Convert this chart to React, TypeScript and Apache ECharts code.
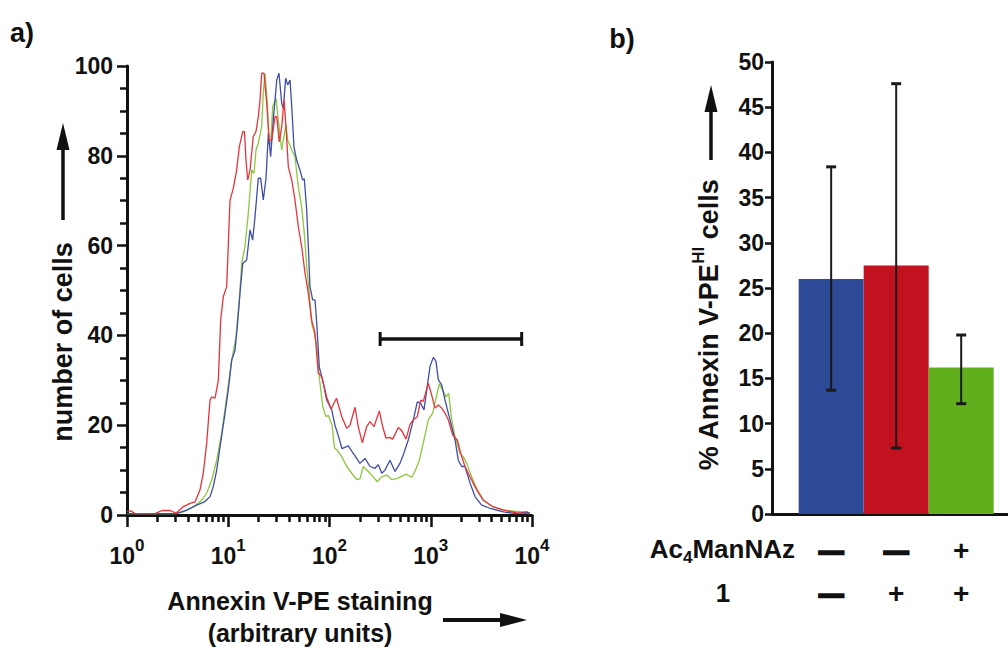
import React, { useEffect, useRef } from 'react';
import * as echarts from 'echarts';

// ---------- Panel a: flow cytometry histograms ----------
// each point: [log10 of Annexin V-PE intensity, number of cells]
const redTrace: [number, number][] = [
  [0, 0.8], [0.04, 0.9], [0.079, 0.3], [0.277, 0.3], [0.346, 1.0], [0.425, 1.0], [0.484, 0.4], [0.553, 1.8],
  [0.622, 2.6], [0.672, 2.9], [0.721, 5.6], [0.754, 9.4], [0.787, 16], [0.82, 25.6], [0.837, 26.3], [0.869, 26],
  [0.902, 30], [0.925, 43.4], [0.951, 48.6], [0.984, 50.8], [1.0, 59.8], [1.017, 70], [1.05, 72.8], [1.083, 76.8],
  [1.109, 82], [1.143, 85.4], [1.16, 85.4], [1.175, 79], [1.192, 74.6], [1.215, 76.8], [1.247, 84.3], [1.274, 85.4],
  [1.297, 88.7], [1.314, 92.4], [1.33, 98.4], [1.353, 98.4], [1.38, 91.7], [1.405, 83.5], [1.429, 83.5], [1.462, 88.7],
  [1.479, 88.7], [1.504, 83.1], [1.528, 86.5], [1.551, 92.4], [1.57, 86.5], [1.593, 77.6], [1.627, 74.6], [1.659, 70.2],
  [1.692, 64.2], [1.725, 59.8], [1.758, 53.9], [1.791, 49.4], [1.824, 43.4], [1.857, 40.5], [1.889, 31.6], [1.923, 30.8],
  [1.972, 26.3], [2.015, 23.6], [2.069, 26], [2.121, 21.9], [2.17, 19.3], [2.202, 20], [2.252, 24], [2.284, 19.7],
  [2.324, 16.1], [2.367, 19.7], [2.4, 20.8], [2.44, 19.7], [2.492, 23.2], [2.525, 19.7], [2.558, 17.1], [2.591, 17.3],
  [2.624, 16.9], [2.68, 19.5], [2.713, 18.8], [2.756, 16.9], [2.795, 20.2], [2.828, 21.2], [2.867, 21.9], [2.901, 25.6],
  [2.926, 25.3], [2.976, 29.3], [3.009, 26.7], [3.042, 23.8], [3.075, 24.5], [3.108, 23.8], [3.141, 22.7], [3.173, 21.2],
  [3.217, 17.8], [3.262, 16.7], [3.296, 13.7], [3.338, 10.8], [3.388, 8.5], [3.454, 5.6], [3.519, 3.3], [3.618, 1.8],
  [3.717, 1.1], [3.849, 0.5], [3.98, 0.3],
];

const blueTrace: [number, number][] = [
  [0, 0.3], [0.227, 0.3], [0.484, 0.3], [0.59, 1.1], [0.688, 2.2], [0.77, 3.0], [0.82, 4.1], [0.852, 6.3],
  [0.886, 10], [0.919, 15.2], [0.968, 22.6], [1.0, 27.8], [1.034, 34.5], [1.067, 36.7], [1.089, 41.9], [1.116, 49.4],
  [1.143, 56], [1.182, 56.8], [1.215, 63.5], [1.241, 61.2], [1.264, 66.4], [1.297, 75], [1.32, 75], [1.346, 70.2],
  [1.373, 75], [1.396, 85], [1.419, 79.8], [1.445, 88], [1.479, 96.9], [1.501, 98.4], [1.528, 91.7], [1.544, 90.5],
  [1.567, 97.3], [1.587, 95.8], [1.61, 96.9], [1.627, 91], [1.649, 82], [1.676, 79], [1.709, 76.8], [1.735, 74.6],
  [1.751, 74.9], [1.775, 67.9], [1.791, 59.8], [1.807, 50.8], [1.834, 47.9], [1.857, 47.9], [1.874, 42.7], [1.899, 33],
  [1.933, 30], [1.972, 25.6], [2.022, 23.4], [2.054, 20], [2.089, 17.5], [2.123, 14.8], [2.186, 15.4], [2.235, 13.7],
  [2.301, 11.5], [2.351, 12.6], [2.4, 10.8], [2.449, 10.4], [2.482, 11.2], [2.516, 9.3], [2.548, 10], [2.597, 12.2],
  [2.647, 9.7], [2.696, 11.5], [2.729, 13.4], [2.778, 16.7], [2.828, 21.2], [2.867, 25.2], [2.901, 24.9], [2.933, 23.4],
  [2.966, 28.7], [2.993, 33.1], [3.025, 35.1], [3.052, 34.2], [3.075, 30.1], [3.108, 29], [3.141, 25.6], [3.19, 21.2],
  [3.24, 16.7], [3.272, 12.2], [3.306, 10.8], [3.338, 10.8], [3.388, 7.1], [3.437, 4.1], [3.503, 2.2], [3.585, 1.5],
  [3.717, 0.7], [3.849, 0.3], [3.948, 0.7], [3.98, 0.3],
];

const greenTrace: [number, number][] = [
  [0, 0.3], [0.484, 0.3], [0.556, 0.7], [0.655, 1.8], [0.738, 3.3], [0.787, 4.9], [0.837, 7.8], [0.886, 12.2],
  [0.935, 18.2], [0.985, 26.3], [1.034, 34.5], [1.077, 39.7], [1.109, 47.9], [1.133, 56], [1.165, 59.8], [1.198, 67.2],
  [1.232, 76.8], [1.254, 76.1], [1.274, 81.3], [1.297, 82.8], [1.33, 86.5], [1.346, 93.9], [1.363, 98.4], [1.386, 91.7],
  [1.402, 82.8], [1.419, 82.5], [1.439, 91], [1.472, 92.8], [1.494, 88], [1.528, 81.3], [1.544, 83.5], [1.57, 86.9],
  [1.587, 83.5], [1.627, 81.3], [1.659, 79.8], [1.692, 73.1], [1.725, 68.7], [1.751, 62.7], [1.775, 55.3], [1.8, 49.4],
  [1.824, 42.7], [1.847, 40.8], [1.874, 37.5], [1.899, 30.8], [1.933, 24.1], [1.965, 21.9], [1.988, 22.2], [2.025, 20],
  [2.049, 15], [2.074, 14.5], [2.121, 13], [2.17, 10.8], [2.219, 9.3], [2.269, 7.9], [2.301, 8.1], [2.334, 10.8],
  [2.383, 9.7], [2.433, 8.5], [2.472, 7.4], [2.516, 8.5], [2.565, 8.9], [2.614, 7.9], [2.664, 8.1], [2.713, 8.6],
  [2.756, 9.1], [2.812, 8.4], [2.844, 9.7], [2.887, 12.2], [2.926, 16], [2.976, 21.2], [3.019, 22.7], [3.052, 26],
  [3.084, 29.2], [3.118, 27.8], [3.151, 26.3], [3.177, 27.1], [3.207, 21.2], [3.24, 17.4], [3.289, 13.7], [3.321, 13],
  [3.355, 11.5], [3.404, 8.5], [3.454, 5.9], [3.519, 3.3], [3.618, 1.8], [3.75, 1.0], [3.914, 0.7], [3.98, 0.5],
];

// gate marker: [start decade, end decade, height]
const gateMarker: [number, number, number][] = [[2.5, 3.898, 39.2]];

// decade tick positions (10^0 ... 10^4)
const decadeTicks = [0, 1, 2, 3, 4];
const minorMultipliers = [2, 3, 4, 5, 6, 7, 8, 9];

// ---------- Panel b: % Annexin V-PE high cells ----------
const groupPositions = [1, 2, 3];
const barValues = [26.0, 27.5, 16.2];
const errorLow = [13.7, 7.3, 12.2];
const errorHigh = [38.4, 47.6, 19.8];
const barColors = ['#2d4a96', '#c3121f', '#62af1e'];
const ac4ManNAzRow = ['—', '—', '+'];
const compound1Row = ['—', '+', '+'];

const FONT = '"Liberation Sans", Arial, Helvetica, sans-serif';
const INK = '#111111';

export default function App() {
  const ref = useRef<HTMLDivElement>(null);

  useEffect(() => {
    if (!ref.current) return;
    const chart = echarts.init(ref.current, undefined, { renderer: 'svg' });

    const minorTickValues: number[] = [];
    for (let k = 0; k < decadeTicks.length - 1; k++) {
      for (const m of minorMultipliers) minorTickValues.push(decadeTicks[k] + Math.log10(m));
    }

    const tickLabel = { fontFamily: FONT, fontWeight: 'bold' as const, fontSize: 23, color: INK };

    const option: any = {
      animation: false,
      backgroundColor: '#ffffff',
      grid: [
        { left: 127, top: 66, width: 405, height: 449 },
        { left: 772, top: 62, width: 236, height: 452 },
      ],
      xAxis: [
        {
          gridIndex: 0, type: 'value', min: 0, max: 4, interval: 1, position: 'bottom',
          axisLine: { show: true, lineStyle: { color: INK, width: 3 } },
          axisTick: { show: true, length: 12, lineStyle: { color: INK, width: 2.5 } },
          splitLine: { show: false },
          axisLabel: {
            margin: 22,
            formatter: (v: number) => `{b|10}{s|${Math.round(v)}}`,
            rich: {
              b: { ...tickLabel, fontSize: 23 },
              s: { ...tickLabel, fontSize: 17, padding: [0, 0, 20, 0] },
            },
          },
        },
        {
          gridIndex: 0, type: 'value', min: 0, max: 4, position: 'bottom',
          axisLine: { show: false },
          axisTick: { show: true, customValues: minorTickValues, length: 7, lineStyle: { color: INK, width: 2.5 } },
          axisLabel: { show: false },
          splitLine: { show: false },
        },
        {
          gridIndex: 1, type: 'value', min: 0.09, max: 3.72,
          axisLine: { show: true, onZero: false, lineStyle: { color: INK, width: 3 } },
          axisTick: { show: false },
          axisLabel: { show: false },
          splitLine: { show: false },
        },
      ],
      yAxis: [
        {
          gridIndex: 0, type: 'value', min: 0, max: 100, interval: 20,
          axisLine: { show: true, lineStyle: { color: INK, width: 3 } },
          axisTick: { show: true, length: 10, lineStyle: { color: INK, width: 2.5 } },
          minorTick: { show: true, splitNumber: 4, length: 7, lineStyle: { color: INK, width: 2.5 } },
          splitLine: { show: false },
          minorSplitLine: { show: false },
          axisLabel: { ...tickLabel, margin: 14 },
        },
        {
          gridIndex: 1, type: 'value', min: 0, max: 50, interval: 5,
          axisLine: { show: true, lineStyle: { color: INK, width: 3 } },
          axisTick: { show: true, length: 7, lineStyle: { color: INK, width: 2.5 } },
          splitLine: { show: false },
          axisLabel: { ...tickLabel, margin: 8 },
        },
      ],
      series: [
        {
          type: 'line', xAxisIndex: 0, yAxisIndex: 0, data: greenTrace, showSymbol: false,
          lineStyle: { color: '#8dc63f', width: 1.3 }, z: 2,
        },
        {
          type: 'line', xAxisIndex: 0, yAxisIndex: 0, data: blueTrace, showSymbol: false,
          lineStyle: { color: '#3f4ea8', width: 1.3 }, z: 3,
        },
        {
          type: 'line', xAxisIndex: 0, yAxisIndex: 0, data: redTrace, showSymbol: false,
          lineStyle: { color: '#e8333a', width: 1.3 }, z: 4,
        },
        {
          type: 'custom', xAxisIndex: 0, yAxisIndex: 0, data: gateMarker,
          encode: { x: [0, 1], y: 2 },
          renderItem: (params: any, api: any) => {
            const p1 = api.coord([api.value(0), api.value(2)]);
            const p2 = api.coord([api.value(1), api.value(2)]);
            const st = { stroke: INK, lineWidth: 3.5 };
            return {
              type: 'group',
              children: [
                { type: 'line', shape: { x1: p1[0], y1: p1[1], x2: p2[0], y2: p2[1] }, style: st },
                { type: 'line', shape: { x1: p1[0], y1: p1[1] - 7, x2: p1[0], y2: p1[1] + 7 }, style: { stroke: INK, lineWidth: 3 } },
                { type: 'line', shape: { x1: p2[0], y1: p2[1] - 7, x2: p2[0], y2: p2[1] + 7 }, style: { stroke: INK, lineWidth: 3 } },
              ],
            };
          },
          z: 5,
        },
        {
          type: 'bar', xAxisIndex: 2, yAxisIndex: 1, barWidth: 65,
          data: groupPositions.map((g, i) => ({ value: [g, barValues[i]], itemStyle: { color: barColors[i] } })),
          z: 2,
        },
        {
          type: 'custom', xAxisIndex: 2, yAxisIndex: 1,
          data: groupPositions.map((g, i) => [g, errorLow[i], errorHigh[i]]),
          encode: { x: 0, y: [1, 2] },
          renderItem: (params: any, api: any) => {
            const lo = api.coord([api.value(0), api.value(1)]);
            const hi = api.coord([api.value(0), api.value(2)]);
            const cap = 5;
            return {
              type: 'group',
              children: [
                { type: 'line', shape: { x1: lo[0], y1: lo[1], x2: hi[0], y2: hi[1] }, style: { stroke: '#1a1a1a', lineWidth: 2 } },
                { type: 'line', shape: { x1: hi[0] - cap, y1: hi[1], x2: hi[0] + cap, y2: hi[1] }, style: { stroke: '#1a1a1a', lineWidth: 3 } },
                { type: 'line', shape: { x1: lo[0] - cap, y1: lo[1], x2: lo[0] + cap, y2: lo[1] }, style: { stroke: '#1a1a1a', lineWidth: 3 } },
              ],
            };
          },
          z: 6,
        },
      ],
    };

    chart.setOption(option);

    const txt = (id: string, x: number, y: number, text: string, size: number, extra: any = {}) => ({
      type: 'text', id, x, y, rotation: extra.rotation || 0,
      style: {
        text, fontFamily: FONT, fontWeight: 'bold', fontSize: size, fill: INK,
        align: extra.align || 'center', verticalAlign: 'middle', rich: extra.rich,
        stroke: extra.stroke, lineWidth: extra.lineWidth,
      },
      z: 10,
    });

    const colX = groupPositions.map((g) => chart.convertToPixel({ xAxisIndex: 2 } as any, g) as number);

    const graphic: any[] = [
      txt('lblA', 22, 33, 'a)', 27),
      txt('lblB', 622, 39, 'b)', 27),
      txt('ytitleA', 63, 342, 'number of cells', 27, { rotation: Math.PI / 2 }),
      { type: 'line', shape: { x1: 63, y1: 220, x2: 63, y2: 146 }, style: { stroke: INK, lineWidth: 3.5 }, z: 10 },
      { type: 'polygon', shape: { points: [[63, 123], [56.5, 150], [69.5, 150]] }, style: { fill: INK }, z: 10 },
      txt('xtitle1', 300, 601, 'Annexin V-PE staining', 25),
      txt('xtitle2', 300, 633, '(arbitrary units)', 25),
      { type: 'line', shape: { x1: 443, y1: 620, x2: 505, y2: 620 }, style: { stroke: INK, lineWidth: 4 }, z: 10 },
      { type: 'polygon', shape: { points: [[527, 620], [500, 613], [500, 627]] }, style: { fill: INK }, z: 10 },
      txt('ytitleB', 709, 325, '% Annexin V-PE{sup|HI} cells', 27, {
        rotation: Math.PI / 2,
        rich: { sup: { fontFamily: FONT, fontWeight: 'bold', fontSize: 17, fill: INK, padding: [0, 0, 22, 0] } },
      }),
      { type: 'line', shape: { x1: 711, y1: 160, x2: 711, y2: 108 }, style: { stroke: INK, lineWidth: 3.5 }, z: 10 },
      { type: 'polygon', shape: { points: [[711, 85], [704.5, 112], [717.5, 112]] }, style: { fill: INK }, z: 10 },
      txt('row1', 795, 549, 'Ac{sub|4}ManNAz', 26, {
        align: 'right',
        rich: { sub: { fontFamily: FONT, fontWeight: 'bold', fontSize: 17, fill: INK, padding: [16, 0, 0, 0] } },
      }),
      txt('row2', 723, 593, '1', 26),
    ];
    ac4ManNAzRow.forEach((s, i) => {
      graphic.push(txt('r1s' + i, colX[i], 550, s, s === '+' ? 28 : 24, s === '+' ? {} : { stroke: INK, lineWidth: 2.5 }));
    });
    compound1Row.forEach((s, i) => {
      graphic.push(txt('r2s' + i, colX[i], 593, s, s === '+' ? 28 : 24, s === '+' ? {} : { stroke: INK, lineWidth: 2.5 }));
    });

    chart.setOption({ graphic });

    return () => chart.dispose();
  }, []);

  return <div ref={ref} style={{ position: 'absolute', left: 0, top: 0, width: 1008, height: 648, background: '#fff' }} />;
}
